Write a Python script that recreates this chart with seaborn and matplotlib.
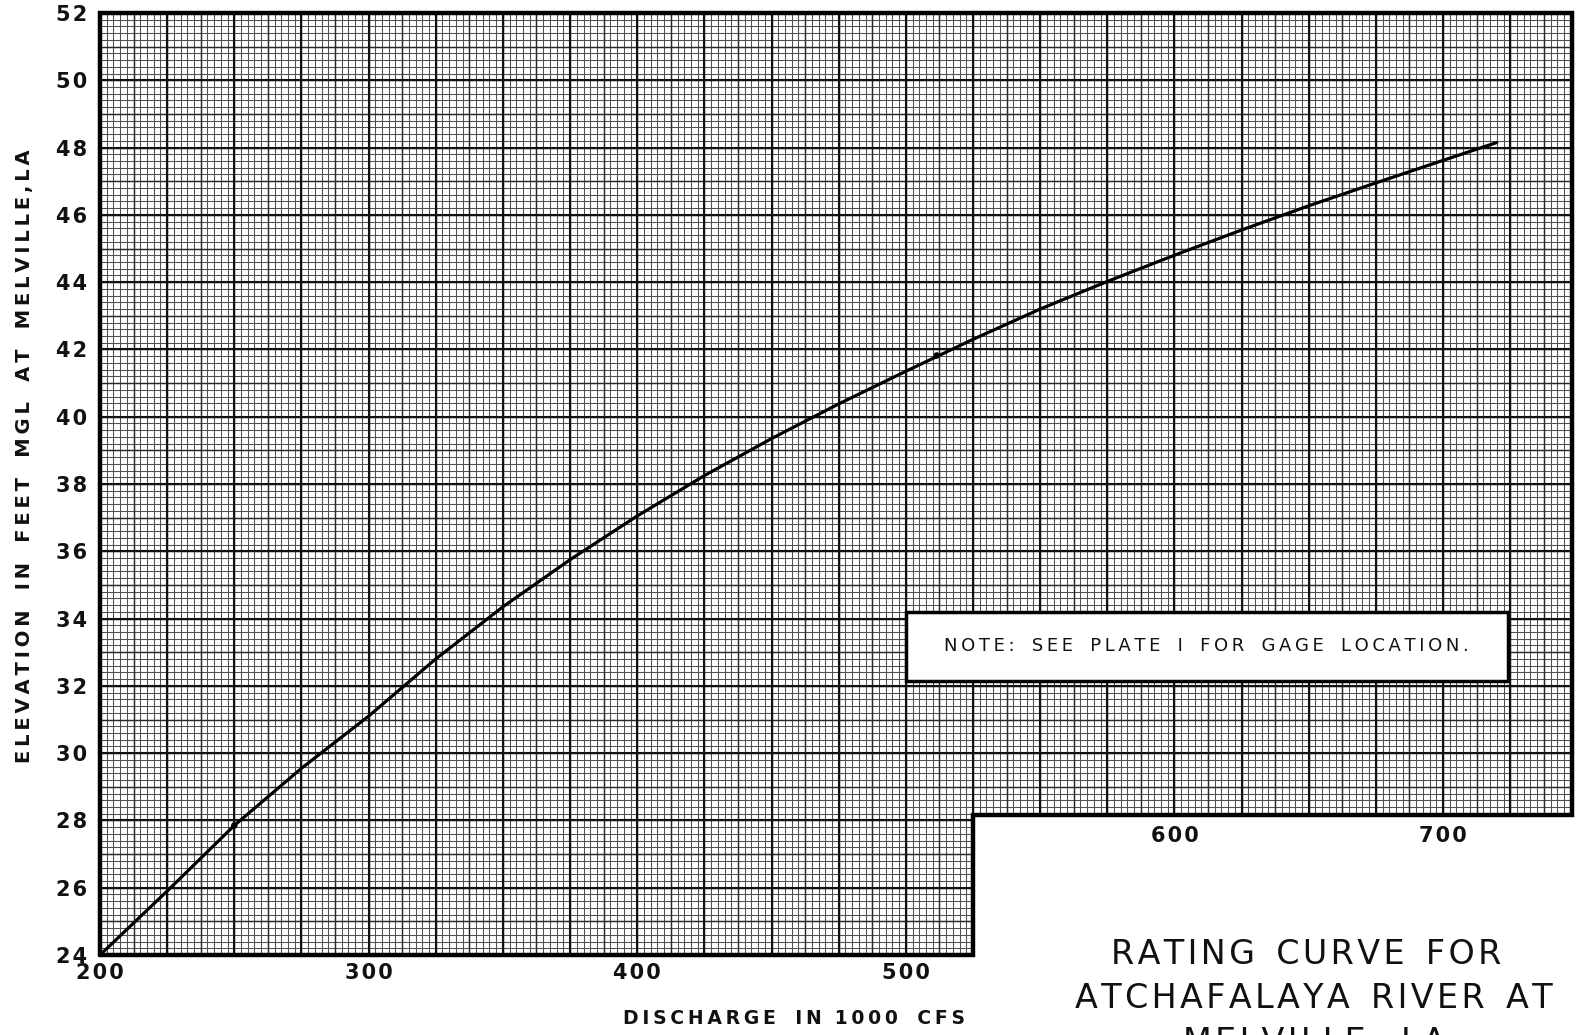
import numpy as np
import pandas as pd
import matplotlib
matplotlib.use("Agg")
import matplotlib.pyplot as plt
import seaborn as sns
from matplotlib.patches import Rectangle

# ---- data ----
discharge = [200, 225, 250, 275, 300, 325, 350, 375, 400, 425, 450, 475,
             500, 525, 550, 575, 600, 625, 650, 675, 700, 720]
elevation = [24.0, 25.9, 27.85, 29.55, 31.1, 32.8, 34.35, 35.75, 37.05, 38.25, 39.35, 40.38,
             41.35, 42.3, 43.2, 44.02, 44.8, 45.55, 46.27, 46.95, 47.62, 48.15]
obs_discharge = [250, 511.5]
obs_elevation = [27.85, 41.82]
x_ticks_lower = [200, 300, 400, 500]
x_ticks_upper = [600, 700]
y_ticks = list(range(24, 53, 2))

X_MIN, X_MAX = 200, 748
Y_MIN, Y_MAX = 24, 52
CUT_X, CUT_Y = 525, 28.15

HAIR = "\u200a"
THIN = "\u2009"


def track(s, sep):
    """Spread letters apart (lettering style) using narrow unicode spaces."""
    return sep.join(list(s))


def lettering(words, sep, gap="   "):
    return gap.join(track(w, sep) for w in words)


sns.set_theme(style="white")
plt.rcParams['font.family'] = ['DejaVu Sans']

W, H = 1578, 1035
fig = plt.figure(figsize=(W / 100, H / 100), dpi=100)
fig.patch.set_facecolor("white")
ax = fig.add_axes([100 / W, 1 - 955 / H, 1472 / W, 942 / H])
ax.set_xlim(X_MIN, X_MAX)
ax.set_ylim(Y_MIN, Y_MAX)
for s in ax.spines.values():
    s.set_visible(False)

# graph paper grid
xs_minor = np.arange(X_MIN, X_MAX + 0.01, 2.5)
ys_minor = np.arange(Y_MIN, Y_MAX + 0.01, 0.2)
ax.vlines(xs_minor, Y_MIN, Y_MAX, color="#505050", lw=0.75, zorder=0.5)
ax.hlines(ys_minor, X_MIN, X_MAX, color="#505050", lw=0.75, zorder=0.5)
ax.vlines(np.arange(X_MIN, X_MAX + 0.01, 12.5), Y_MIN, Y_MAX, color="#2a2a2a", lw=1.05, zorder=0.6)
ax.hlines(np.arange(Y_MIN, Y_MAX + 0.01, 1.0), X_MIN, X_MAX, color="#2a2a2a", lw=1.05, zorder=0.6)
ax.vlines(np.arange(X_MIN, X_MAX + 0.01, 25), Y_MIN, Y_MAX, color="#111111", lw=1.5, zorder=0.7)
ax.hlines(np.arange(Y_MIN, Y_MAX + 0.01, 2.0), X_MIN, X_MAX, color="#111111", lw=1.5, zorder=0.7)

# blank lower-right area of the sheet
ax.add_patch(Rectangle((CUT_X, Y_MIN - 1), X_MAX - CUT_X + 10, CUT_Y - Y_MIN + 1,
                       facecolor="white", edgecolor="none", zorder=2, clip_on=False))

# L-shaped sheet border
ax.plot([X_MIN, X_MIN, X_MAX, X_MAX, CUT_X, CUT_X, X_MIN],
        [Y_MIN, Y_MAX, Y_MAX, CUT_Y, CUT_Y, Y_MIN, Y_MIN],
        color="black", lw=3.2, clip_on=False, zorder=6, solid_joinstyle="miter")

# rating curve
df = pd.DataFrame({"discharge": discharge, "elevation": elevation})
sns.lineplot(data=df, x="discharge", y="elevation", ax=ax, color="black",
             lw=2.3, zorder=5, sort=True)
sns.scatterplot(x=obs_discharge, y=obs_elevation, ax=ax, color="black",
                s=22, zorder=5, edgecolor="none")
ax.set_xlabel("")
ax.set_ylabel("")

# ticks
tick_font = dict(fontsize=15, fontweight="bold")
ax.set_xticks(x_ticks_lower)
ax.set_xticklabels([track(str(v), HAIR) for v in x_ticks_lower], **tick_font)
ax.set_yticks(y_ticks)
ax.set_yticklabels([track(str(v), HAIR) for v in y_ticks], **tick_font)
ax.tick_params(axis="both", length=0, colors="#111111")
ax.tick_params(axis="x", pad=6)
ax.tick_params(axis="y", pad=9)
for v in x_ticks_upper:
    ax.annotate(track(str(v), HAIR), (v, CUT_Y), xytext=(0, -15), textcoords="offset points",
                ha="center", va="center", color="#111111", zorder=7, **tick_font)

# note box
ax.add_patch(Rectangle((500, 32.15), 224, 2.05, facecolor="white", edgecolor="black",
                       lw=2.5, zorder=4))
note = lettering("NOTE: SEE PLATE I FOR GAGE LOCATION.".split(" "), THIN, gap="   ")
ax.text(612, 33.18, note, ha="center", va="center",
        fontsize=13, color="#111111", zorder=5)

# axis labels
xlab = (track("DISCHARGE", THIN) + "   " + track("IN", THIN) + "  "
        + track("1000", THIN) + "   " + track("CFS", THIN))
fig.text(794 / W, 1 - 1019 / H, xlab, ha="center", va="center",
         fontsize=13.5, fontweight="bold", color="#111111")
ylab = lettering(["ELEVATION", "IN", "FEET", "MGL", "AT", "MELVILLE,LA"], THIN, gap="   ")
fig.text(25 / W, 1 - 456 / H, ylab, ha="center",
         va="center", rotation=90, fontsize=14, fontweight="bold", color="#111111")

# title block
t1 = lettering(["RATING", "CURVE", "FOR"], HAIR, gap="  ")
t2 = lettering(["ATCHAFALAYA", "RIVER", "AT"], HAIR, gap="  ")
t3 = lettering(["MELVILLE,", "LA"], HAIR, gap="  ")
fig.text(1306 / W, 1 - 954 / H, t1, ha="center", va="center", fontsize=24, color="#111111")
fig.text(1314 / W, 1 - 999 / H, t2, ha="center", va="center", fontsize=24, color="#111111")
fig.text(1314 / W, 1 - 1042 / H, t3, ha="center", va="center", fontsize=24, color="#111111")

fig.savefig("out.png", dpi=100, facecolor="white")
